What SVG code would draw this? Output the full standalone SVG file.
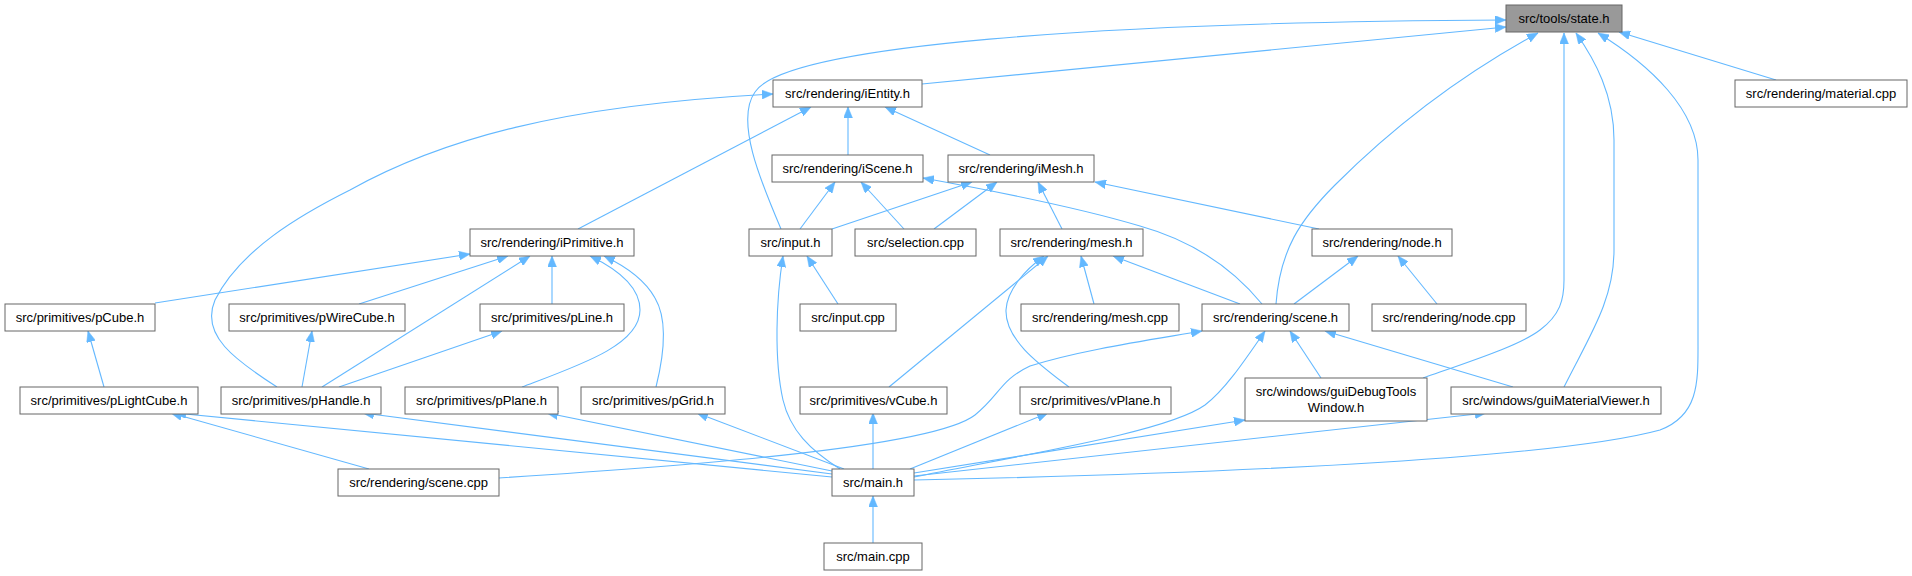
<svg xmlns="http://www.w3.org/2000/svg" width="1912" height="576" viewBox="0 0 1912 576">
<style>
.n rect{fill:#ffffff;stroke:#666666;stroke-width:1}
.n.hl rect{fill:#999999}
.n text{font-family:"Liberation Sans",Arial,sans-serif;font-size:13px;fill:#000000;text-anchor:middle}
.e path{fill:none;stroke:#63b8ff;stroke-width:1.1;marker-end:url(#a)}
</style>
<defs>
<marker id="a" viewBox="0 0 11 9" refX="11" refY="4.5" markerWidth="11" markerHeight="9" markerUnits="userSpaceOnUse" orient="auto">
<path d="M0,0 L11,4.5 L0,9 z" fill="#63b8ff" stroke="#63b8ff" stroke-width="0.5"/>
</marker>
</defs>
<rect width="1912" height="576" fill="#ffffff"/>
<g id="edges" class="e">
<path d="M781,229 C760,180 735,120 755,92 C785,45 1100,22 1506,20"/>
<path d="M922,84 L1506,27"/>
<path d="M1276,304 C1280,250 1300,220 1335,185 C1400,120 1470,70 1538,33"/>
<path d="M1423,378 C1480,358 1520,345 1540,330 C1560,315 1564,300 1564,280 L1564,33"/>
<path d="M1564,387 C1590,335 1614,300 1614,250 L1614,140 C1614,95 1595,60 1576,33"/>
<path d="M914,480 C1200,474 1550,460 1660,430 C1700,415 1698,380 1698,340 L1698,160 C1698,110 1650,65 1598,33"/>
<path d="M1776,80 L1619,32"/>
<path d="M277,387 C235,360 200,335 215,300 C240,250 300,215 350,190 C440,140 560,105 773,94"/>
<path d="M578,229 L811,107"/>
<path d="M848,155 L848,107"/>
<path d="M990,155 L885,107"/>
<path d="M800,229 L835,182"/>
<path d="M904,229 L861,182"/>
<path d="M1262,304 C1230,265 1190,240 1140,226 C1080,208 1000,192 923,178"/>
<path d="M832,229 L972,182"/>
<path d="M934,229 L997,182"/>
<path d="M1062,229 L1038,182"/>
<path d="M1319,229 L1095,182"/>
<path d="M155,303 L470,254"/>
<path d="M359,304 L508,256"/>
<path d="M322,387 L530,256"/>
<path d="M552,304 L552,256"/>
<path d="M522,387 C580,365 640,345 640,310 C640,285 615,268 590,256"/>
<path d="M656,387 C664,355 668,320 655,298 C645,280 625,266 604,256"/>
<path d="M302,387 L312,331"/>
<path d="M339,387 L502,331"/>
<path d="M104,387 L88,331"/>
<path d="M840,469 C810,450 790,430 783,400 C774,360 776,300 783,256"/>
<path d="M838,304 L807,256"/>
<path d="M889,387 L1048,256"/>
<path d="M1069,387 C1040,365 1005,340 1006,310 C1007,290 1025,270 1044,256"/>
<path d="M1094,304 L1081,256"/>
<path d="M1240,304 L1113,256"/>
<path d="M1294,304 L1358,256"/>
<path d="M1437,304 L1398,256"/>
<path d="M499,478 C650,468 930,450 975,415 C1000,395 1000,380 1030,366 C1080,350 1150,340 1202,331"/>
<path d="M914,477 C1050,450 1170,430 1205,405 C1225,390 1245,360 1265,331"/>
<path d="M1321,378 L1290,331"/>
<path d="M1513,387 L1325,331"/>
<path d="M369,469 L171,413"/>
<path d="M832,477 L175,413"/>
<path d="M832,474 L363,413"/>
<path d="M832,471 L547,413"/>
<path d="M844,469 L697,413"/>
<path d="M873,469 L873,413"/>
<path d="M910,469 L1048,413"/>
<path d="M914,473 L1245,420"/>
<path d="M914,476 L1486,413"/>
<path d="M873,543 L873,496"/>
</g>
<g id="state" class="n hl"><rect x="1506" y="5" width="116" height="27"/><text x="1564" y="23">src/tools/state.h</text></g>
<g id="iEntity" class="n"><rect x="773" y="80" width="149" height="27"/><text x="847.5" y="98">src/rendering/iEntity.h</text></g>
<g id="materialcpp" class="n"><rect x="1735" y="80" width="172" height="27"/><text x="1821" y="98">src/rendering/material.cpp</text></g>
<g id="iScene" class="n"><rect x="772" y="155" width="151" height="27"/><text x="847.5" y="173">src/rendering/iScene.h</text></g>
<g id="iMesh" class="n"><rect x="948" y="155" width="146" height="27"/><text x="1021" y="173">src/rendering/iMesh.h</text></g>
<g id="iPrimitive" class="n"><rect x="470" y="229" width="164" height="27"/><text x="552" y="247">src/rendering/iPrimitive.h</text></g>
<g id="inputh" class="n"><rect x="749" y="229" width="83" height="27"/><text x="790.5" y="247">src/input.h</text></g>
<g id="selection" class="n"><rect x="855" y="229" width="121" height="27"/><text x="915.5" y="247">src/selection.cpp</text></g>
<g id="meshh" class="n"><rect x="1000" y="229" width="143" height="27"/><text x="1071.5" y="247">src/rendering/mesh.h</text></g>
<g id="nodeh" class="n"><rect x="1312" y="229" width="140" height="27"/><text x="1382" y="247">src/rendering/node.h</text></g>
<g id="pCube" class="n"><rect x="5" y="304" width="150" height="27"/><text x="80" y="322">src/primitives/pCube.h</text></g>
<g id="pWireCube" class="n"><rect x="229" y="304" width="176" height="27"/><text x="317" y="322">src/primitives/pWireCube.h</text></g>
<g id="pLine" class="n"><rect x="480" y="304" width="144" height="27"/><text x="552" y="322">src/primitives/pLine.h</text></g>
<g id="inputcpp" class="n"><rect x="800" y="304" width="96" height="27"/><text x="848" y="322">src/input.cpp</text></g>
<g id="meshcpp" class="n"><rect x="1021" y="304" width="158" height="27"/><text x="1100" y="322">src/rendering/mesh.cpp</text></g>
<g id="sceneh" class="n"><rect x="1202" y="304" width="147" height="27"/><text x="1275.5" y="322">src/rendering/scene.h</text></g>
<g id="nodecpp" class="n"><rect x="1372" y="304" width="154" height="27"/><text x="1449" y="322">src/rendering/node.cpp</text></g>
<g id="pLightCube" class="n"><rect x="20" y="387" width="178" height="27"/><text x="109" y="405">src/primitives/pLightCube.h</text></g>
<g id="pHandle" class="n"><rect x="221" y="387" width="160" height="27"/><text x="301" y="405">src/primitives/pHandle.h</text></g>
<g id="pPlane" class="n"><rect x="405" y="387" width="153" height="27"/><text x="481.5" y="405">src/primitives/pPlane.h</text></g>
<g id="pGrid" class="n"><rect x="581" y="387" width="144" height="27"/><text x="653" y="405">src/primitives/pGrid.h</text></g>
<g id="vCube" class="n"><rect x="800" y="387" width="147" height="27"/><text x="873.5" y="405">src/primitives/vCube.h</text></g>
<g id="vPlane" class="n"><rect x="1020" y="387" width="151" height="27"/><text x="1095.5" y="405">src/primitives/vPlane.h</text></g>
<g id="guiDebug" class="n"><rect x="1245" y="378" width="182" height="43"/><text x="1336" y="396">src/windows/guiDebugTools</text><text x="1336" y="412">Window.h</text></g>
<g id="guiMaterialViewer" class="n"><rect x="1451" y="387" width="210" height="27"/><text x="1556" y="405">src/windows/guiMaterialViewer.h</text></g>
<g id="scenecpp" class="n"><rect x="338" y="469" width="161" height="27"/><text x="418.5" y="487">src/rendering/scene.cpp</text></g>
<g id="mainh" class="n"><rect x="832" y="469" width="82" height="27"/><text x="873" y="487">src/main.h</text></g>
<g id="maincpp" class="n"><rect x="824" y="543" width="98" height="27"/><text x="873" y="561">src/main.cpp</text></g>
</svg>
